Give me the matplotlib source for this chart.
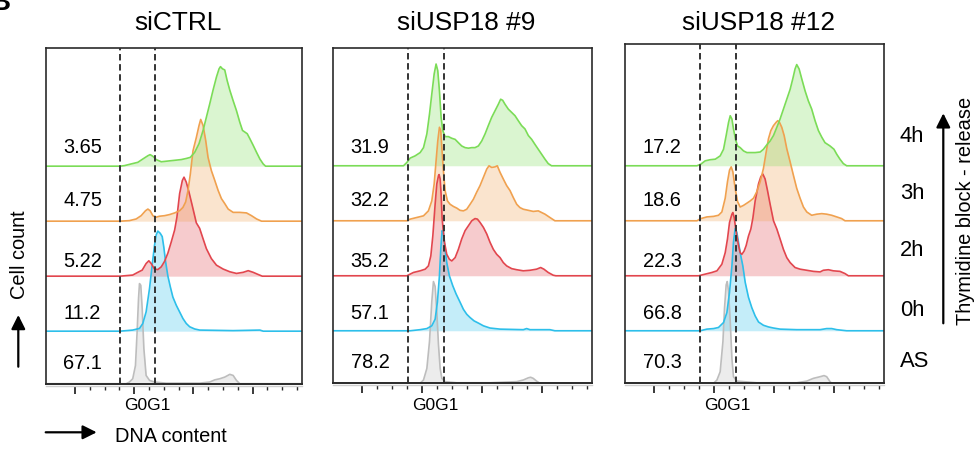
import matplotlib.pyplot as plt
from matplotlib.patches import FancyArrowPatch
from matplotlib.ticker import FixedLocator

plt.rcParams['font.family'] = ['Liberation Sans', 'DejaVu Sans']

# ---- data: DNA content (x) and relative cell count (h, in lane heights) ----
timepoints = ['AS', '0h', '2h', '3h', '4h']
gate = [88, 118]

# siCTRL
ctrl_as_x = [93.2, 96.0, 98.8, 101.1, 102.5, 103.7, 104.5, 105.6, 106.8, 108.2, 110.1, 113.0, 117.2, 127.1,
             155.3, 163.8, 168.1, 172.3, 176.5, 180.8, 183.6, 186.4, 189.2]
ctrl_as_h = [0, 0.03, 0.09, 0.33, 0.94, 1.55, 1.82, 1.79, 1.36, 0.64, 0.15, 0.06, 0.03, 0.01,
             0.01, 0.03, 0.07, 0.09, 0.12, 0.17, 0.15, 0.06, 0]
ctrl_0h_x = [88.1, 98.8, 104.5, 107.3, 110.1, 113.0, 115.2, 117.2, 118.6, 120.0, 122.0, 123.7, 125.1, 126.5,
             128.5, 130.5, 132.7, 135.6, 138.4, 141.2, 144.0, 146.9, 151.1, 155.3, 183.6, 206.2, 209.0]
ctrl_0h_h = [0, 0.02, 0.05, 0.14, 0.35, 0.78, 1.20, 1.56, 1.75, 1.82, 1.78, 1.72, 1.52, 1.27,
             1.0, 0.81, 0.62, 0.47, 0.35, 0.23, 0.14, 0.08, 0.04, 0.02, 0.01, 0.02, 0]
ctrl_2h_x = [88.1, 98.8, 103.1, 106.8, 110.1, 112.4, 114.4, 117.2, 120.0, 122.9, 125.7, 128.5, 131.3, 134.2,
             136.1, 138.4, 140.7, 142.1, 144.0, 146.3, 149.1, 152.5, 155.3, 158.2, 161.0, 165.2, 169.5,
             175.1, 180.8, 186.4, 192.1, 196.3, 200.5, 204.8, 208.2]
ctrl_2h_h = [0, 0.02, 0.07, 0.11, 0.23, 0.28, 0.23, 0.13, 0.12, 0.17, 0.27, 0.42, 0.62, 0.84,
             1.07, 1.5, 1.74, 1.8, 1.71, 1.53, 1.28, 0.97, 0.87, 0.68, 0.50, 0.32, 0.20,
             0.13, 0.08, 0.05, 0.07, 0.10, 0.07, 0.03, 0]
ctrl_3h_x = [88.1, 96.0, 101.7, 105.9, 109.6, 111.6, 113.5, 115.8, 118.1, 121.4, 125.7, 129.9, 134.2, 138.4,
             141.2, 143.5, 145.5, 147.4, 149.7, 152.5, 154.8, 156.2, 158.2, 160.4, 162.4, 165.2, 168.1,
             170.9, 173.7, 176.5, 179.4, 183.6, 189.2, 194.9, 199.1, 203.4, 207.6]
ctrl_3h_h = [0, 0.01, 0.04, 0.10, 0.19, 0.22, 0.19, 0.10, 0.07, 0.09, 0.10, 0.12, 0.15, 0.19,
             0.25, 0.35, 0.56, 0.85, 1.28, 1.52, 1.74, 1.85, 1.74, 1.47, 1.16, 0.92, 0.74,
             0.56, 0.41, 0.32, 0.22, 0.16, 0.16, 0.15, 0.10, 0.04, 0]
ctrl_4h_x = [88.1, 91.8, 97.4, 103.1, 107.3, 111.6, 113.5, 115.8, 118.6, 122.9, 127.1, 131.3, 135.6, 139.8,
             144.0, 147.4, 151.1, 154.8, 158.2, 161.0, 163.8, 166.6, 169.5, 171.7, 172.9, 174.6, 176.5,
             178.5, 180.8, 183.6, 186.4, 189.2, 191.5, 193.5, 195.5, 197.7, 200.5, 203.4, 206.2, 209.0, 211.0]
ctrl_4h_h = [0, 0.01, 0.04, 0.07, 0.13, 0.19, 0.21, 0.18, 0.12, 0.08, 0.09, 0.10, 0.11, 0.12,
             0.14, 0.16, 0.25, 0.41, 0.65, 0.89, 1.13, 1.38, 1.62, 1.77, 1.81, 1.77, 1.75,
             1.56, 1.38, 1.19, 1.01, 0.80, 0.65, 0.62, 0.59, 0.50, 0.38, 0.25, 0.13, 0.04, 0]
ctrl_pct = [67.1, 11.2, 5.22, 4.75, 3.65]

# siUSP18 #9
usp9_as_x = [98.3, 101.1, 103.9, 106.1, 108.0, 109.4, 110.8, 112.2, 113.6, 115.0, 116.4, 119.1, 128.9,
             156.6, 178.9, 184.4, 188.6, 190.5, 192.7, 195.5, 198.3]
usp9_as_h = [0, 0.06, 0.27, 0.76, 1.48, 1.85, 1.76, 1.30, 0.70, 0.27, 0.09, 0.03, 0.01,
             0.01, 0.03, 0.06, 0.10, 0.11, 0.09, 0.04, 0]
usp9_0h_x = [90.0, 98.3, 103.9, 108.0, 110.8, 112.7, 114.4, 115.5, 116.6, 117.7, 119.1, 120.5, 122.7, 125.5,
             128.3, 131.6, 134.4, 137.2, 140.0, 143.3, 146.9, 151.1, 156.6, 165.0, 184.4, 187.2, 190.0,
             206.6, 210.8]
usp9_0h_h = [0, 0.02, 0.04, 0.09, 0.21, 0.52, 1.0, 1.48, 1.82, 1.79, 1.48, 1.24, 1.0, 0.82,
             0.67, 0.52, 0.39, 0.30, 0.24, 0.18, 0.14, 0.09, 0.05, 0.03, 0.02, 0.04, 0.02,
             0.02, 0]
usp9_2h_x = [87.2, 92.7, 98.3, 102.5, 105.2, 107.2, 108.9, 110.8, 112.2, 113.6, 114.1, 115.0, 115.8, 116.6,
             117.2, 118.6, 120.5, 122.7, 124.7, 127.5, 130.2, 133.0, 135.8, 138.6, 141.4, 144.1, 146.1,
             148.3, 151.1, 153.9, 156.6, 159.4, 162.2, 165.0, 167.7, 170.5, 174.7, 178.9, 184.4, 190.0,
             195.5, 198.9, 201.6, 205.2, 209.4, 211.6]
usp9_2h_h = [0, 0.06, 0.09, 0.12, 0.18, 0.36, 0.73, 1.3, 1.67, 1.82, 1.84, 1.76, 1.48, 1.06,
             0.91, 0.61, 0.39, 0.30, 0.27, 0.33, 0.48, 0.67, 0.82, 0.91, 1.0, 1.04, 1.03,
             0.97, 0.88, 0.76, 0.61, 0.48, 0.39, 0.33, 0.24, 0.18, 0.13, 0.11, 0.09, 0.10,
             0.12, 0.15, 0.12, 0.06, 0.01, 0]
usp9_3h_x = [87.2, 90.0, 95.5, 101.1, 105.2, 108.0, 110.0, 111.6, 113.0, 114.4, 115.5, 116.6, 117.7, 119.1,
             121.1, 123.3, 126.1, 128.9, 131.6, 134.4, 137.2, 140.0, 142.7, 145.5, 148.3, 151.1, 153.9,
             155.8, 158.0, 160.8, 162.7, 165.0, 167.7, 170.5, 173.3, 176.1, 178.9, 181.6, 184.4, 188.6,
             192.7, 196.9, 199.7, 202.5, 206.6, 210.8]
usp9_3h_h = [0, 0.03, 0.06, 0.09, 0.18, 0.36, 0.67, 1.09, 1.45, 1.70, 1.64, 1.27, 0.91, 0.55,
             0.36, 0.30, 0.26, 0.23, 0.19, 0.18, 0.21, 0.30, 0.39, 0.52, 0.64, 0.79, 0.94,
             1.0, 0.97, 0.98, 1.0, 0.88, 0.76, 0.64, 0.55, 0.42, 0.30, 0.24, 0.21, 0.19,
             0.17, 0.18, 0.15, 0.12, 0.06, 0]
usp9_4h_x = [84.4, 87.2, 90.0, 94.1, 98.3, 101.1, 103.9, 106.1, 108.0, 110.0, 111.6, 113.0, 114.4, 115.8,
             117.2, 119.1, 121.9, 124.7, 127.5, 130.2, 133.0, 135.8, 138.6, 141.4, 144.1, 146.9, 149.7,
             152.5, 155.2, 158.0, 160.8, 163.6, 165.5, 167.2, 169.1, 171.9, 174.7, 177.5, 180.2, 183.0,
             185.8, 188.6, 191.4, 194.1, 196.9, 199.7, 202.5, 205.2, 208.0]
usp9_4h_h = [0, 0.06, 0.14, 0.18, 0.24, 0.33, 0.58, 0.94, 1.3, 1.67, 1.85, 1.73, 1.36, 0.88,
             0.64, 0.53, 0.53, 0.50, 0.48, 0.42, 0.36, 0.33, 0.32, 0.33, 0.33, 0.36, 0.45,
             0.58, 0.73, 0.88, 1.0, 1.12, 1.21, 1.19, 1.12, 1.03, 0.97, 0.91, 0.82, 0.73,
             0.67, 0.55, 0.48, 0.39, 0.30, 0.21, 0.12, 0.04, 0]
usp9_pct = [78.2, 57.1, 35.2, 32.2, 31.9]

# siUSP18 #12
usp12_as_x = [99.5, 102.3, 105.0, 107.3, 108.6, 110.0, 110.9, 112.0, 113.4, 114.8, 116.1, 118.9, 124.5,
              135.6, 168.9, 177.3, 182.8, 188.4, 191.7, 193.9, 196.7, 198.1]
usp12_as_h = [0, 0.06, 0.21, 0.76, 1.36, 1.79, 1.85, 1.67, 1.12, 0.45, 0.12, 0.04, 0.03,
              0.01, 0.01, 0.04, 0.09, 0.12, 0.14, 0.12, 0.03, 0]
usp12_0h_x = [88.4, 93.9, 99.5, 103.6, 107.8, 110.6, 112.8, 114.8, 116.1, 117.5, 118.9, 120.3, 121.7, 123.9,
              125.9, 128.6, 131.4, 134.2, 137.0, 141.1, 145.3, 149.5, 155.0, 168.9, 188.4, 193.9, 198.1,
              202.3, 210.6]
usp12_0h_h = [0, 0.03, 0.04, 0.06, 0.15, 0.33, 0.70, 1.18, 1.61, 1.86, 1.79, 1.61, 1.42, 1.18,
              0.88, 0.61, 0.42, 0.27, 0.16, 0.10, 0.07, 0.05, 0.03, 0.02, 0.02, 0.04, 0.04,
              0.02, 0]
usp12_2h_x = [87.0, 92.5, 98.1, 102.3, 106.4, 109.2, 111.1, 112.8, 114.8, 115.6, 116.7, 117.8, 118.9, 120.3,
              121.7, 123.1, 125.0, 126.7, 128.6, 130.6, 132.3, 134.2, 137.0, 138.9, 140.6, 142.5, 144.5,
              146.7, 149.5, 152.3, 155.0, 157.8, 160.6, 163.4, 167.5, 171.7, 177.3, 182.8, 188.4, 191.1,
              195.3, 199.5, 205.0, 209.2, 212.0]
usp12_2h_h = [0, 0.03, 0.06, 0.09, 0.21, 0.42, 0.67, 0.97, 1.12, 1.15, 1.06, 0.88, 0.73, 0.55,
              0.42, 0.39, 0.45, 0.55, 0.72, 0.85, 1.05, 1.36, 1.67, 1.80, 1.85, 1.76, 1.55,
              1.30, 1.0, 0.85, 0.67, 0.48, 0.33, 0.24, 0.15, 0.12, 0.10, 0.08, 0.07, 0.10,
              0.11, 0.09, 0.08, 0.04, 0]
usp12_3h_x = [85.6, 88.9, 93.9, 99.5, 103.6, 106.4, 109.2, 111.1, 112.8, 114.2, 115.6, 117.5, 119.5, 121.7,
              124.5, 127.3, 130.0, 132.8, 135.6, 138.4, 141.1, 143.4, 145.3, 147.3, 149.5, 151.7, 153.1,
              154.5, 156.4, 158.4, 160.6, 163.4, 166.1, 168.9, 171.7, 174.5, 177.3, 181.4, 185.6, 189.8,
              193.9, 198.1, 202.3, 206.4, 209.2]
usp12_3h_h = [0, 0.04, 0.07, 0.08, 0.10, 0.16, 0.41, 0.71, 0.92, 0.98, 0.89, 0.59, 0.35, 0.25,
              0.28, 0.32, 0.36, 0.41, 0.53, 0.71, 0.95, 1.25, 1.49, 1.64, 1.73, 1.79, 1.82,
              1.79, 1.70, 1.55, 1.31, 1.07, 0.83, 0.59, 0.41, 0.25, 0.16, 0.10, 0.12, 0.13,
              0.12, 0.10, 0.07, 0.04, 0]
usp12_4h_x = [85.6, 88.9, 92.5, 96.7, 100.9, 105.0, 107.8, 110.0, 112.0, 113.4, 114.8, 116.1, 117.8, 119.5,
              121.7, 124.5, 127.3, 130.0, 134.2, 138.4, 141.1, 143.9, 146.7, 149.5, 152.3, 155.0, 157.8,
              160.6, 163.4, 165.6, 167.5, 168.9, 170.9, 173.1, 175.9, 178.6, 181.4, 184.2, 187.0, 189.8,
              192.5, 196.7, 200.0, 202.3, 205.0, 207.8, 210.6]
usp12_4h_h = [0, 0.03, 0.09, 0.11, 0.12, 0.18, 0.30, 0.55, 0.79, 0.91, 0.85, 0.67, 0.48, 0.36,
              0.33, 0.27, 0.24, 0.24, 0.24, 0.25, 0.30, 0.38, 0.45, 0.55, 0.70, 0.85, 1.03,
              1.21, 1.39, 1.58, 1.76, 1.84, 1.76, 1.58, 1.36, 1.18, 1.03, 0.82, 0.64, 0.52,
              0.42, 0.36, 0.30, 0.21, 0.12, 0.04, 0]
usp12_pct = [70.3, 66.8, 22.3, 18.6, 17.2]

panels = [
    ('siCTRL', [(ctrl_as_x, ctrl_as_h), (ctrl_0h_x, ctrl_0h_h), (ctrl_2h_x, ctrl_2h_h),
                (ctrl_3h_x, ctrl_3h_h), (ctrl_4h_x, ctrl_4h_h)], ctrl_pct),
    ('siUSP18 #9', [(usp9_as_x, usp9_as_h), (usp9_0h_x, usp9_0h_h), (usp9_2h_x, usp9_2h_h),
                    (usp9_3h_x, usp9_3h_h), (usp9_4h_x, usp9_4h_h)], usp9_pct),
    ('siUSP18 #12', [(usp12_as_x, usp12_as_h), (usp12_0h_x, usp12_0h_h), (usp12_2h_x, usp12_2h_h),
                     (usp12_3h_x, usp12_3h_h), (usp12_4h_x, usp12_4h_h)], usp12_pct),
]

# ---- layout / style ----
W, H = 979, 450
LANE = 55.0                       # pixels per lane unit
offsets = [0, 0.955, 1.955, 2.955, 3.955]
lab_dy = [0.27, 0.22, 0.16, 0.27, 0.24]   # number baseline above lane baseline
colors = ['#bdbdbd', '#2dbfea', '#e2464e', '#f0a14f', '#7bdc57']
X0, X1 = 25.3, 242.0
boxes = [(45.7, 47.7, 302.3, 383.7), (332.7, 47.7, 592.3, 383.3), (624.7, 44.3, 884.3, 383.3)]
DARK = '#2a2a2a'


def fx(px):
    return px / W


def fy(py):
    return 1 - py / H


fig = plt.figure(figsize=(W / 100, H / 100), dpi=100)

for (title, curves, pct), (l, t, r, b) in zip(panels, boxes):
    ax = fig.add_axes([fx(l), fy(b), (r - l) / W, (b - t) / H])
    ax.set_xlim(X0, X1)
    ax.set_ylim(0, (b - t) / LANE)

    for i, ((xs, hs), off, c) in enumerate(zip(curves, offsets, colors)):
        xx = [X0] + xs + [X1]
        yy = [off] + [off + h for h in hs] + [off]
        ax.fill_between(xx, off, yy, color=c, alpha=0.28, lw=0, zorder=1)
        ax.plot(xx, yy, color=c, lw=1.2, zorder=2)
        ax.text(56.5, off + lab_dy[i], f'{pct[i]:g}', ha='center', va='baseline',
                fontsize=14.4, color='black', zorder=4)

    for g in gate:
        ax.axvline(g, color='#333333', lw=1.4, dashes=(3.3, 1.9), zorder=3)

    # frame: dark box, gray tick axis just below it
    for s in ['top', 'left', 'right']:
        ax.spines[s].set_color(DARK)
        ax.spines[s].set_linewidth(1.2)
    ax.spines['bottom'].set_position(('outward', 1.5))
    ax.spines['bottom'].set_color('#cfcfcf')
    ax.spines['bottom'].set_linewidth(1.0)
    ax.axhline(0, color=DARK, lw=1.4, zorder=5, clip_on=False)

    ax.xaxis.set_major_locator(FixedLocator([50, 100, 150, 200]))
    ax.xaxis.set_minor_locator(FixedLocator([62.5, 75, 87.5, 112.5, 125, 137.5, 162.5, 175, 187.5,
                                             212.5, 225, 237.5]))
    ax.tick_params(axis='x', which='major', length=5.5, width=1.3, color=DARK, labelbottom=False)
    ax.tick_params(axis='x', which='minor', length=3, width=1.0, color=DARK)
    ax.set_yticks([])

    fig.text(fx(l + 0.515 * (r - l)), fy(30), title, ha='center', va='baseline', fontsize=18.9)
    fig.text(fx(l + (111 - X0) / (X1 - X0) * (r - l)), fy(409.5), 'G0G1',
             ha='center', va='baseline', fontsize=12.5)

# right side labels
for lab, yb in zip(timepoints, [366.7, 316, 256, 199, 141.7]):
    fig.text(fx(900), fy(yb), lab, ha='left', va='baseline', fontsize=15.8)

arrow_kw = dict(transform=fig.transFigure, arrowstyle='-|>,head_length=0.4,head_width=0.2',
                mutation_scale=21, lw=1.6, color='black', shrinkA=0, shrinkB=0)
fig.add_artist(FancyArrowPatch((fx(943.3), fy(323.3)), (fx(943.3), fy(113.3)), **arrow_kw))
fig.text(fx(966), fy(211), 'Thymidine block - release', rotation=90,
         ha='center', va='center', fontsize=14.4)

fig.add_artist(FancyArrowPatch((fx(18.3), fy(366.7)), (fx(18.3), fy(315)), **arrow_kw))
fig.text(fx(19.5), fy(255), 'Cell count', rotation=90, ha='center', va='center', fontsize=14.4)

fig.add_artist(FancyArrowPatch((fx(45.7), fy(432.3)), (fx(96.7), fy(432.3)), **arrow_kw))
fig.text(fx(115), fy(441.5), 'DNA content', ha='left', va='baseline', fontsize=14.4)

# panel letter, mostly cut off at the top edge as in the source figure
fig.text(fx(-10), fy(10), 'B', ha='left', va='baseline', fontsize=20, fontweight='bold')

fig.savefig('out.png', dpi=100)
